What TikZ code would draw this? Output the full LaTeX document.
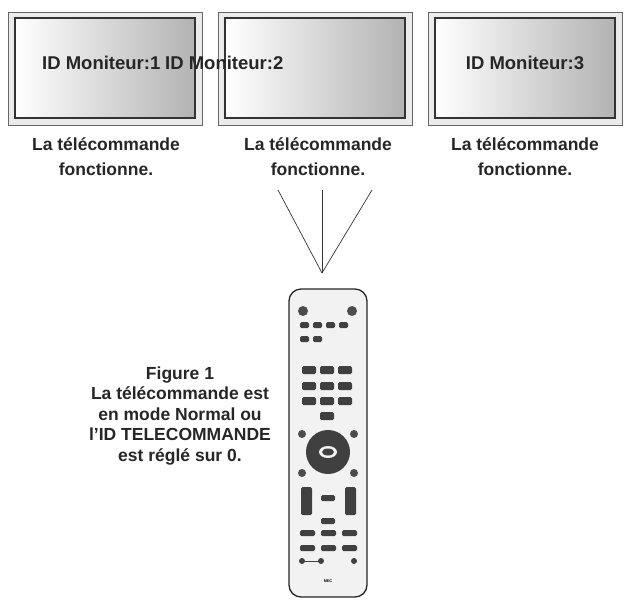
\documentclass[tikz,border=0pt]{standalone}
\usepackage{fontspec}
\setmainfont{Liberation Sans}
\begin{document}
\begin{tikzpicture}[x=1pt,y=-1pt,
 lbl/.style={font=\bfseries\fontsize{17.5}{25}\selectfont,align=center,text=black!85},
 flbl/.style={font=\bfseries\fontsize{17.5}{20.5}\selectfont,align=center,text=black!85},
 idl/.style={font=\bfseries\fontsize{18.5}{20}\selectfont,text=black!85},
 btn/.style={fill=black!75,rounded corners=1.5pt},
 ray/.style={black!80,line width=0.7pt}]
\useasboundingbox (0,0) rectangle (635,606);
\foreach \x/\n in {8/m1,218/m2,428/m3}{
 \draw[black!60,fill=black!8,line width=0.8pt] (\x,12) rectangle ++(194,113);
 \shade[left color=white,right color=black!30] (\x+7,18) rectangle ++(180,100);
 \draw[black!80,line width=1.3pt] (\x+7,18) rectangle ++(180,100);
 \node (\n) at (\x+97,68) {};
}
\node[idl,anchor=west,inner sep=0pt] (t1) at (42,63) {ID Moniteur:1};
\node[idl,anchor=west,inner sep=0pt] (t2) at (165,63) {ID Moniteur:2};
\node[idl] (t3) at (525,63) {ID Moniteur:3};
\node[lbl] (l1) at (106,157) {La télécommande\\fonctionne.};
\node[lbl] (l2) at (318,157) {La télécommande\\fonctionne.};
\node[lbl] (l3) at (525,157) {La télécommande\\fonctionne.};
\coordinate (apex) at (322,273);
\coordinate (a1) at (278,190);\coordinate (a2) at (322,190);\coordinate (a3) at (372,190);
\foreach \a in {a1,a2,a3} \draw[ray] (apex) -- (\a);
\node[flbl] (fig) at (180,416) {Figure 1\\La télécommande est\\en mode Normal ou\\l’ID TELECOMMANDE\\est réglé sur 0.};
% remote
\draw[black!85,fill=black!5,line width=1.3pt,rounded corners=12pt] (289,289) rectangle (367,597);
\fill[black!70] (303,311) circle (5);\fill[black!70] (352,311) circle (5);
\foreach \x in {300,313,326,339} \fill[btn] (\x,322) rectangle ++(9,6);
\foreach \x in {300,313} \fill[btn] (\x,336) rectangle ++(9,6);
\foreach \y in {366,382,397} \foreach \x in {302,320,338} \fill[btn] (\x,\y) rectangle ++(14,8);
\fill[btn] (320,412) rectangle ++(14,8);
\node[circle,fill=black!75,minimum size=44pt,inner sep=0pt] (dpad) at (328,452) {};
\fill[black!5] (328,452) ellipse (9 and 6);
\fill[black!75] (328,452) ellipse (6 and 3.5);
\fill[black!70] (302,434) circle (4);\fill[black!70] (354,434) circle (4);
\fill[black!70] (302,473) circle (4);\fill[black!70] (354,473) circle (4);
\fill[btn] (301,487) rectangle ++(11,28);\fill[btn] (345,487) rectangle ++(11,28);
\fill[btn] (321,495) rectangle ++(14,6);\fill[btn] (321,518) rectangle ++(14,6);
\foreach \x in {300,321,342} {\fill[btn] (\x,530) rectangle ++(15,6);\fill[btn] (\x,545) rectangle ++(15,6);}
\draw[black!75,line width=1pt] (302,561) -- (321,561);
\fill[black!75] (302,561) circle (3);\fill[black!75] (321,561) circle (3);\fill[black!75] (354,561) circle (3);
\node[font=\bfseries\fontsize{4}{4}\selectfont] (nec) at (328,581) {NEC};
\end{tikzpicture}
\end{document}
